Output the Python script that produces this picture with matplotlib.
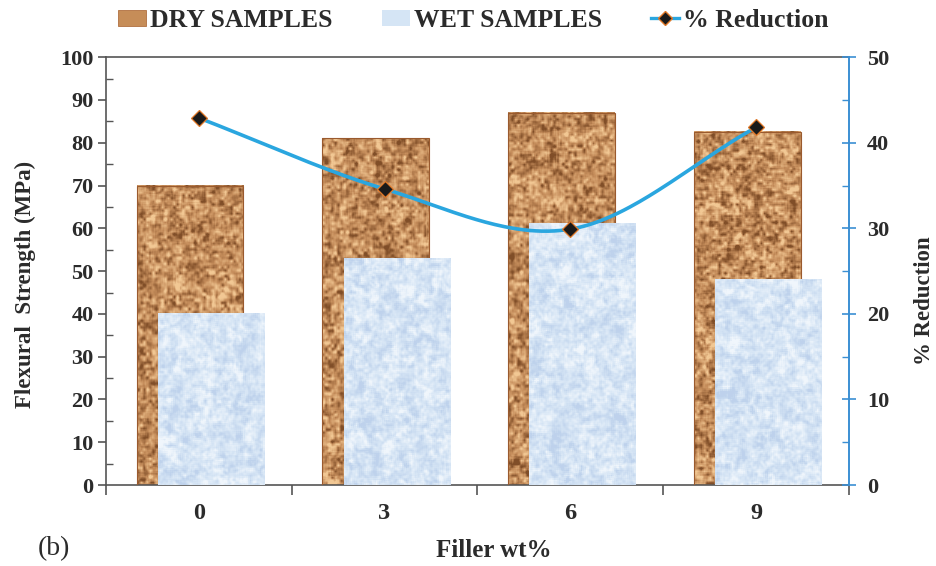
import numpy as np
import matplotlib
matplotlib.use("Agg")
import matplotlib.pyplot as plt
from matplotlib.patches import Patch
from matplotlib.lines import Line2D

# ---- data ----
filler = ["0", "3", "6", "9"]
dry = [70, 81, 87, 82.5]
wet = [40, 53, 61, 48]
reduction = [42.9, 34.6, 29.9, 41.8]

plt.rcParams["font.family"] = ["Liberation Serif", "DejaVu Serif"]
TXT = "#2b2b2b"
BLUE_LINE = "#2aa6df"
AX_BLUE = "#3b8fd3"

fig = plt.figure(figsize=(9.37, 5.66), dpi=100)
ax = fig.add_axes([0.113, 0.143, 0.793, 0.756])

rng = np.random.default_rng(7)


def smooth_noise(h, w, scales):
    out = np.zeros((h, w))
    for s, amp in scales:
        hh, ww = max(2, h // s + 2), max(2, w // s + 2)
        small = rng.standard_normal((hh, ww))
        big = np.kron(small, np.ones((s, s)))[:h, :w]
        k = max(1, s // 2)
        for axis in (0, 1):
            big = (np.roll(big, k, axis) + big + np.roll(big, -k, axis)) / 3
        out += amp * big
    return out


def blend(n, base, dark, light):
    n = (n - n.mean()) / n.std()
    t = np.clip(n, -2.2, 2.2)[..., None]
    base, dark, light = (np.array(c) / 255 for c in (base, dark, light))
    img = np.where(t < 0, base + (-t / 2.2) * (dark - base),
                   base + (t / 2.2) * (light - base))
    return np.clip(img, 0, 1)


def cork_texture(h, w):
    n = smooth_noise(h, w, [(3, 1.0), (6, 0.8), (2, 0.5)])
    return blend(n, (198, 142, 92), (128, 78, 40), (242, 200, 148))


def ice_texture(h, w):
    n = smooth_noise(h, w, [(2, 0.8), (5, 1.0), (10, 0.6)])
    return blend(n, (214, 229, 245), (190, 210, 236), (240, 246, 252))


x = np.arange(len(filler))
bw = 0.575
dry_off = -0.047
wet_off = 0.067

dry_bars = ax.bar(x + dry_off, dry, width=bw, facecolor="none",
                  edgecolor="#9a5a2e", linewidth=0.8, zorder=3)
for b in dry_bars:
    x0, w_, h_ = b.get_x(), b.get_width(), b.get_height()
    ax.imshow(cork_texture(int(h_ * 4.3), 107), extent=[x0, x0 + w_, 0, h_],
              aspect="auto", zorder=2, interpolation="bilinear")

wet_bars = ax.bar(x + wet_off, wet, width=bw, facecolor="none",
                  edgecolor="none", zorder=5)
for b in wet_bars:
    x0, w_, h_ = b.get_x(), b.get_width(), b.get_height()
    ax.imshow(ice_texture(int(h_ * 4.3), 107), extent=[x0, x0 + w_, 0, h_],
              aspect="auto", zorder=4, interpolation="bilinear")

ax.set_xlim(-0.5, len(filler) - 0.5)
ax.set_ylim(0, 100)
ax.set_yticks(np.arange(0, 101, 10))
ax.set_yticks(np.arange(5, 100, 10), minor=True)
ax.set_xticks(x)
ax.set_xticklabels(filler)
ax.set_xticks(np.arange(-0.5, len(filler), 1.0), minor=True)

for side in ("left", "bottom", "top"):
    ax.spines[side].set_color("#555555")
    ax.spines[side].set_linewidth(1.2)
ax.spines["right"].set_visible(False)

ax.tick_params(axis="y", which="major", direction="out", length=6, width=1.2,
               color="#555555", labelsize=16, labelcolor=TXT, pad=3)
ax.tick_params(axis="y", which="minor", direction="in", length=5, width=1.0,
               color="#555555")
ax.tick_params(axis="x", which="major", length=0, labelsize=17.5,
               labelcolor=TXT, pad=13)
ax.tick_params(axis="x", which="minor", direction="out", length=7, width=1.2,
               color="#555555")
for lab in ax.get_yticklabels() + ax.get_xticklabels():
    lab.set_fontweight("bold")

ax.set_ylabel("Flexural  Strength (MPa)", fontsize=16.5, fontweight="bold",
              color=TXT)
ax.yaxis.set_label_coords(-0.094, 0.47)
ax.set_xlabel("Filler wt%", fontsize=18, fontweight="bold", color=TXT)
ax.xaxis.set_label_coords(0.522, -0.125)

# ---- reduction curve on the secondary axis (Catmull-Rom smoothing) ----
ax2 = ax.twinx()
ax2.set_ylim(0, 50)
ax2.set_yticks(np.arange(0, 51, 10))
ax2.set_yticks(np.arange(5, 50, 10), minor=True)
for side in ("left", "bottom", "top"):
    ax2.spines[side].set_visible(False)
ax2.spines["right"].set_color(AX_BLUE)
ax2.spines["right"].set_linewidth(1.4)
ax2.tick_params(axis="y", which="major", direction="inout", length=10,
                width=1.2, color=AX_BLUE, labelsize=16, labelcolor=TXT, pad=8)
ax2.tick_params(axis="y", which="minor", direction="in", length=5,
                width=1.0, color=AX_BLUE)
for lab in ax2.get_yticklabels():
    lab.set_fontweight("bold")
ax2.set_ylabel("% Reduction", fontsize=16.5, fontweight="bold", color=TXT)
ax2.yaxis.set_label_coords(1.087, 0.43)

px = np.asarray(x, float)
py = np.asarray(reduction, float)
P = np.column_stack([px, py])
ext = np.vstack([2 * P[0] - P[1], P, 2 * P[-1] - P[-2]])
cx, cy = [], []
for i in range(1, len(ext) - 2):
    p0, p1, p2, p3 = ext[i - 1], ext[i], ext[i + 1], ext[i + 2]
    c1 = p1 + (p2 - p0) / 6
    c2 = p2 - (p3 - p1) / 6
    t = np.linspace(0, 1, 60)[:, None]
    seg = ((1 - t) ** 3) * p1 + 3 * ((1 - t) ** 2) * t * c1 + \
        3 * (1 - t) * t ** 2 * c2 + t ** 3 * p2
    cx.extend(seg[:, 0])
    cy.extend(seg[:, 1])
ax2.plot(cx, cy, color=BLUE_LINE, linewidth=2.6, zorder=6,
         solid_capstyle="round")
ax2.plot(px, py, linestyle="none", marker="D", markersize=8,
         markerfacecolor="#1a1a1a", markeredgecolor="#e07828",
         markeredgewidth=0.9, zorder=7)

# ---- legend ----
handles = [
    Patch(facecolor="#c68d58", edgecolor="#b07040", linewidth=0.6),
    Patch(facecolor="#d5e5f5", edgecolor="none"),
    Line2D([], [], color=BLUE_LINE, linewidth=2.4, marker="D", markersize=7,
           markerfacecolor="#1a1a1a", markeredgecolor="#e07828"),
]
labels = ["DRY SAMPLES", "WET SAMPLES", "% Reduction"]
leg = fig.legend(handles, labels, loc="center", bbox_to_anchor=(0.505, 0.964),
                 ncol=3, frameon=False, handlelength=1.1, handleheight=0.58,
                 handletextpad=0.15, columnspacing=1.9,
                 prop={"family": ["Liberation Serif"], "weight": "bold",
                       "size": 18.5})
for t in leg.get_texts():
    t.set_color(TXT)

fig.text(0.04, 0.02, "(b)", fontsize=20, color=TXT)

fig.savefig("out.png", dpi=100)
